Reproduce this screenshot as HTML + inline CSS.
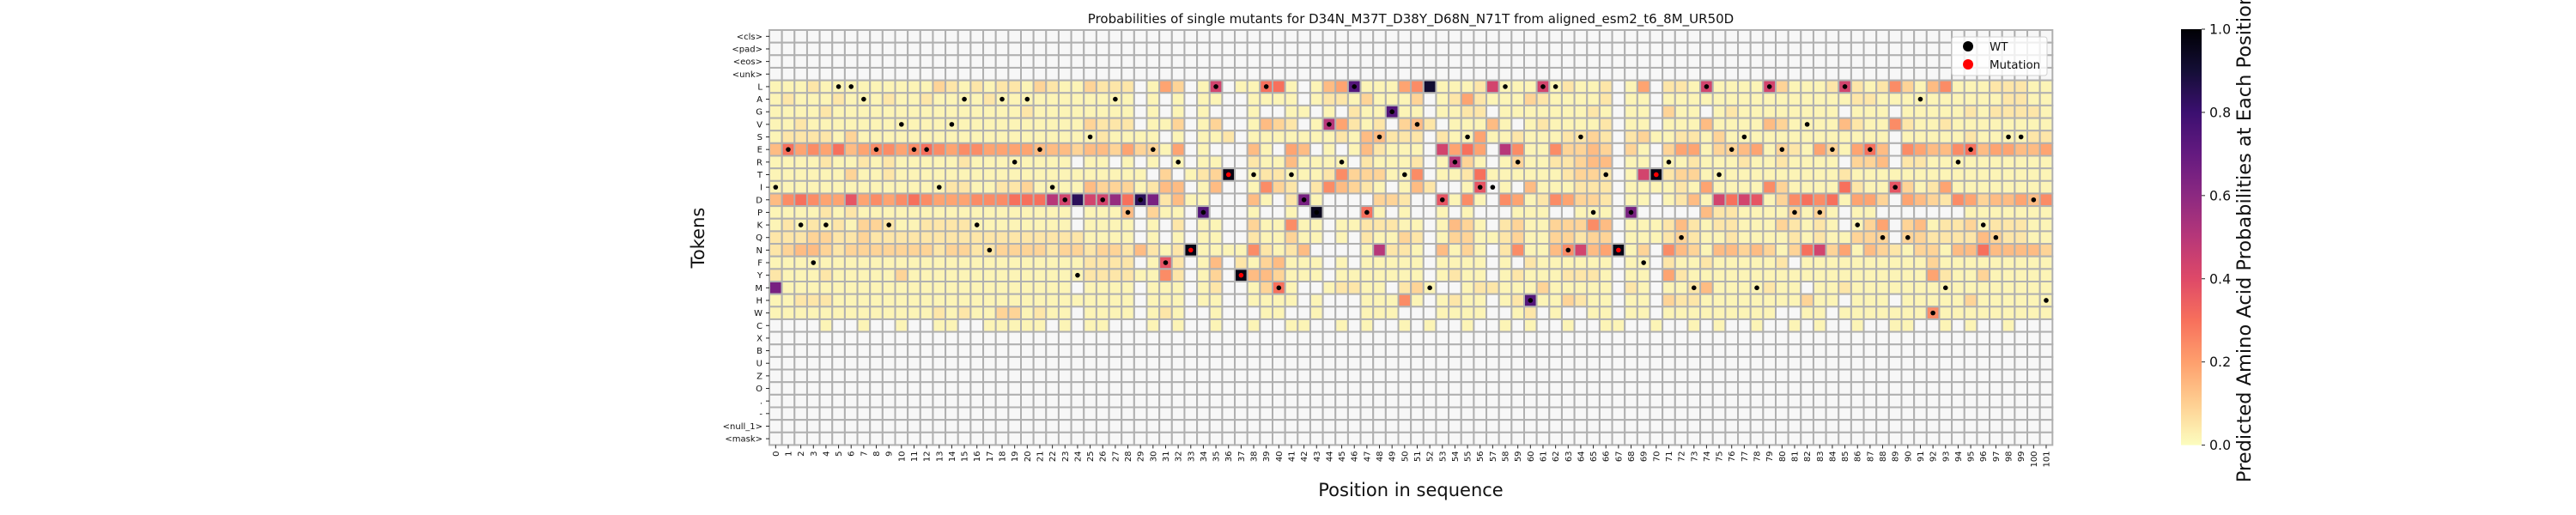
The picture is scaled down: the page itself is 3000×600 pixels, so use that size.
<!DOCTYPE html>
<html><head><meta charset="utf-8"><title>Single mutant probabilities</title>
<style>html,body{margin:0;padding:0;background:#fff;}svg{display:block;font-family:"DejaVu Sans","Liberation Sans",sans-serif;}</style>
</head><body>
<svg id="chart" xmlns="http://www.w3.org/2000/svg" width="3000" height="600" viewBox="0 0 3000 600">
<rect width="3000" height="600" fill="#fff"/>
<text x="1643" y="27" font-size="15" text-anchor="middle" fill="#111">Probabilities of single mutants for D34N_M37T_D38Y_D68N_N71T from aligned_esm2_t6_8M_UR50D</text>
<g id="cells"></g>
<g id="dots"></g>
<g id="yticks"></g>
<g id="xticks"></g>
<text transform="translate(820,277) rotate(-90)" font-size="21" text-anchor="middle" fill="#111">Tokens</text>
<text x="1643" y="578" font-size="21" text-anchor="middle" fill="#111">Position in sequence</text>
<g>
<rect x="2273" y="43" width="111" height="45" rx="3" fill="#fff" fill-opacity="0.8" stroke="#d0d0d0"/>
<circle cx="2292" cy="54" r="6" fill="#000"/>
<text x="2317" y="59" font-size="13.4" fill="#111">WT</text>
<circle cx="2292" cy="75" r="6" fill="#f00"/>
<text x="2317" y="80" font-size="13.4" fill="#111">Mutation</text>
</g>
<defs><linearGradient id="cbgrad" x1="0" y1="1" x2="0" y2="0"></linearGradient></defs>
<rect x="2540" y="34" width="24" height="484.6" fill="url(#cbgrad)"/>
<g id="cbticks"></g>
<text transform="translate(2621,277) rotate(-90)" font-size="22.5" text-anchor="middle" fill="#111">Predicted Amino Acid Probabilities at Each Position</text>
</svg>
<script>
const N = null;
const tokens = ["<cls>","<pad>","<eos>","<unk>","L","A","G","V","S","E","R","T","I","D","P","K","Q","N","F","Y","M","H","W","C","X","B","U","Z","O",".","-","<null_1>","<mask>"];
const positions = Array.from({length:102},(_,i)=>String(i));
const wildType = "IEKFKLLAEKVEEIVAKNARAEIDYSDAPDEFRDPLMDTLMTDPVRLPSGTVMDRSIILRHLLNSPTDPFNRQMLTESMLEPVPELKEQIQAWMREKQSSDH".split("");
const mutPositions = [33,36,37,67,70];
const mutResidues = ["N","T","Y","N","T"];
const cbTicks = [0,0.2,0.4,0.6,0.8,1.0];
const cbTickLabels = ["0.0","0.2","0.4","0.6","0.8","1.0"];

const rowL = [.02,.02,.02,.05,.02,.02,.02,.02,.02,.02,.02,.02,.02,.09,.05,.02,.05,.02,.05,.05,.02,.09,.05,.02,.02,.09,
.05,.05,.05,N,.02,.19,.09,N,.02,.43,N,.02,.02,.3,.3,.02,N,.02,.14,.19,.74,.02,.02,.02,.19,
.24,.91,.02,.02,.02,.05,.43,.02,.02,.02,.43,.02,.05,.02,.02,.05,N,.02,.19,N,.05,.05,.02,.43,.02,
.02,.02,.02,.43,.09,.02,.02,.02,.05,.43,.05,.02,.05,.24,.09,.02,.14,.24,.02,.02,.02,.05,.05,.05,.02,.02];
const rowA = [.02,.05,.02,.02,.02,.05,.02,.02,.02,.05,.02,.02,.05,.02,.02,.02,.02,.05,.02,.02,.02,.02,.02,.02,.02,.02,
.02,.02,.02,N,.02,N,.02,N,.02,.02,N,N,.02,.02,.02,.02,N,.02,.05,.05,.02,.09,.02,.02,.02,
.09,N,.02,.05,.19,.05,.02,.02,.02,.09,.05,.02,.02,.02,.02,.05,N,.02,.02,N,.02,.02,.02,.02,.02,
.02,.02,.02,.02,.02,.02,.02,.02,.02,.02,.05,.05,.02,.02,.02,.02,.02,.02,.02,.02,.02,.02,.05,.05,.02,.02];
const rowG = [.02,.02,.02,.02,.05,.02,.02,.02,.02,.02,.02,.02,.02,.02,.02,.02,.02,.02,.02,.02,.05,.02,.02,.02,.02,.02,
.02,.02,.02,N,.02,N,.02,N,.02,N,N,N,.02,N,N,.02,.02,N,.02,N,.05,.02,.02,.74,.02,
.02,N,.02,.02,.05,.05,N,.02,.02,.02,.02,.02,.02,.02,.05,.02,N,.02,.02,N,.09,.02,.02,N,.02,
.05,.02,.02,.02,.02,.02,.02,.02,.02,N,.02,.02,.02,N,.02,.02,.02,.02,.02,.05,.02,.05,.05,.05,.05,.02];
const rowV = [.02,.02,.05,.02,.02,.02,.02,.02,.02,.02,.02,.02,.02,.02,.02,.02,.02,.02,.02,.02,.02,.02,.02,.02,.02,.09,
.05,.05,.05,N,.02,.02,.09,N,.02,.09,N,N,.02,.14,.09,.05,N,.02,.5,.19,.05,.02,.05,N,.09,
.14,.05,N,.02,.02,.02,.14,.02,N,.02,.05,.02,.02,.02,.02,.05,N,.02,.02,N,.02,.02,.02,.14,.02,
.02,.02,.02,.14,.09,.02,.02,.02,.02,.14,.05,.02,.02,.24,.05,.02,.02,.05,.02,.02,.02,.02,.02,.02,.02,.02];
const rowS = [.02,.05,.05,.05,.05,.02,.09,.02,.02,.02,.02,.02,.02,.02,.02,.02,.02,.02,.02,.02,.02,.02,.02,.02,.02,.02,
.05,.02,.02,.02,.02,N,.02,N,.02,.02,.05,N,.02,.02,.02,.02,.02,.02,.02,.05,.02,.14,.14,.05,.05,
.05,N,.05,.02,.02,.19,.02,.02,.05,.02,.02,.02,.05,.05,.09,.05,N,.05,.09,.02,.02,.05,.05,.02,.09,
.02,.02,.02,.02,.02,.02,.02,.02,.02,.02,.02,.02,.02,N,.02,.02,.02,.02,.02,.05,.02,.02,.02,.02,.05,.05];
const rowE = [.14,.3,.19,.24,.19,.3,.14,.19,.24,.24,.19,.24,.3,.24,.19,.24,.24,.19,.19,.19,.19,.14,.14,.14,.09,.14,
.14,.09,.19,.09,.09,.02,.19,N,.02,N,N,N,.14,.02,N,.19,.14,N,.02,N,.02,.14,.05,.02,.02,
.02,N,.43,.19,.3,.19,N,.5,.24,.02,.02,.24,.09,.09,.14,.09,N,.09,.02,N,.09,.19,.19,.02,.09,
.09,.14,.19,.02,.09,.05,.02,.19,.09,.02,.19,.3,.14,N,.24,.19,.14,.14,.24,.3,.14,.19,.19,.14,.14,.19];
const rowR = [.02,.02,.02,.02,.05,.02,.02,.05,.02,.05,.02,.02,.02,.02,.02,.05,.02,.02,.02,.02,.02,.02,.02,.02,N,.02,
.02,N,.02,N,.02,N,.02,N,.02,.02,N,N,.05,.02,.02,.14,.02,.02,.02,.02,N,.05,.02,.02,.02,
.05,N,.02,.5,.09,.02,N,.02,.09,.02,.02,.05,.05,.09,.14,.14,N,.02,.02,N,.02,.02,.05,.02,.02,
.02,.05,.02,.02,.05,.02,.02,.02,.02,N,.09,.09,.14,N,.05,.05,.02,.02,.02,.02,.02,.02,.02,.02,.02,.02];
const rowT = [.02,.02,.02,.02,.02,.02,.09,.02,.02,.05,.02,.02,.02,.02,.02,.02,.02,.02,.02,.02,.02,.02,.02,.02,.02,.02,
.02,.02,.02,.02,N,.09,N,.02,.05,.09,.97,N,.02,.05,.05,.02,.02,.02,.05,.24,.09,.09,.09,.02,.02,
.24,N,.02,.02,.05,.3,.02,.02,.02,.02,.02,.02,.05,.09,.09,.05,N,.02,.43,.97,.05,.09,.09,.02,.02,
.02,.02,.02,.02,.02,.02,.02,.02,.02,.05,.02,.02,.02,.02,.02,.02,.02,.02,.02,.02,.02,.02,.02,.02,.02,.02];
const rowI = [.02,.02,.02,.02,.02,.02,.02,.02,.02,.02,.02,.02,.02,.02,.05,.05,.02,.02,.05,.05,.09,.02,.02,.02,.02,.14,
.09,.09,.09,.02,.05,.14,.14,N,.02,.14,N,N,.02,.24,.09,.05,N,.05,.24,.14,.09,.05,.02,N,.02,
.14,.05,N,N,.02,.37,N,.02,N,.14,.02,.02,.02,.05,.05,.05,N,.02,.02,.02,.02,.05,.02,.19,.02,
.02,.02,.02,.24,.09,.02,.02,.02,.02,.3,.05,.02,.02,.37,.09,.02,.05,.19,.02,.02,.02,.02,.02,.02,.02,.02];
const rowD = [.14,.24,.3,.24,.19,.19,.37,.19,.24,.19,.24,.3,.24,.19,.19,.19,.24,.24,.24,.3,.3,.3,.5,.43,.84,.43,
.43,.58,.3,.84,.65,.05,.14,.02,.02,N,N,N,.14,.02,N,.05,.65,.02,N,N,N,N,.09,.09,.05,
N,N,.37,.02,.24,.02,N,.24,.19,.02,.05,.24,.19,.09,.09,.05,N,.02,.02,N,.02,.05,.14,.02,.43,
.3,.43,.37,.02,.09,.24,.3,.24,.3,.02,.19,.19,.09,N,.19,.14,.09,.05,.24,.19,.09,.14,.14,.19,.14,.24];
const rowP = [.02,.02,.02,.02,.05,.02,.05,.02,.02,.02,.02,.02,.02,.02,.02,.02,.02,.02,.02,.02,.02,.02,.02,.02,N,.02,
.02,.02,.14,N,.09,.02,.02,N,.74,N,N,N,.02,N,N,.02,N,.95,N,N,N,.3,.02,N,.02,
N,N,.02,N,.02,N,N,N,.02,.02,.02,N,N,.02,.02,.02,N,.65,N,N,N,N,N,.14,.05,
.05,.02,.02,.02,.02,.09,.02,.09,.02,N,.02,.02,N,N,N,N,N,N,N,.02,.02,.02,.02,.02,.02,.02];
const rowK = [.02,.05,.02,.05,.02,.05,.02,.09,.09,.05,.02,.02,.05,.05,.05,.05,.02,.02,.02,.02,.02,.02,.02,.02,N,.02,
.02,.02,.02,N,.02,N,.05,N,.02,.02,N,N,.09,.02,.02,.24,.02,.02,N,.02,.02,.05,.05,.05,.02,
.02,N,.02,.14,.09,.02,N,.05,.09,.02,.02,.09,.09,.09,.24,.14,N,.02,.02,.02,.05,.14,.05,.02,.05,
.05,.02,.02,.02,.09,.05,.02,.05,.02,N,.02,.09,.19,N,.09,.14,.02,.05,.05,.09,.02,.05,.05,.05,.02,.02];
const rowQ = [.05,.05,.05,.09,.09,.05,.05,.09,.05,.05,.05,.05,.05,.05,.05,.05,.05,.05,.05,.05,.05,.05,.05,.05,.05,.02,
.02,.02,.02,N,.02,N,.02,N,.02,.02,N,N,.05,.02,.02,.09,.02,.02,N,.02,N,.05,.02,.02,.09,
.05,N,.02,.09,.09,.02,.02,.05,.09,.02,.02,.09,.09,.05,.09,.09,N,.02,.02,.02,.05,.09,.05,.02,.02,
.05,.02,.02,.02,.02,.05,.02,.05,.02,.02,.09,.09,.09,N,.09,.09,.05,.05,.05,.05,.14,.09,.05,.05,.02,.02];
const rowN = [.05,.09,.14,.14,.09,.05,.09,.09,.09,.09,.09,.09,.09,.05,.09,.09,.05,.05,.09,.09,.09,.09,.05,.09,.09,.05,
.09,.09,.05,.14,.05,.02,.05,.97,.02,.02,.02,.02,.24,.05,.02,.05,.14,N,N,N,N,.02,.5,.05,.05,
.02,N,.14,.02,.09,.02,N,.05,.24,.02,.02,.14,.24,.43,.14,.19,.97,.02,.09,N,.24,.14,.09,.02,.14,
.14,.09,.14,.09,.02,.09,.3,.43,.09,.19,.02,.14,.09,.05,.02,.09,.09,.02,.14,.14,.3,.14,.14,.14,.14,.09];
const rowF = [.02,.02,.02,.02,.02,.02,.02,.02,.02,.02,.02,.02,.02,.02,.02,.02,.02,.02,.02,.02,.02,.02,.02,.02,.02,.05,
.05,.05,.05,N,.02,.37,.05,N,.02,.14,N,.05,.02,.09,.14,.02,.02,.02,N,.02,N,.02,.02,.02,.02,
.02,N,.02,.02,.02,.02,N,.02,N,.05,.02,.02,.02,.02,.02,.02,N,.02,.02,N,.05,.02,.02,.05,.02,
.02,.02,.02,.02,.05,N,.02,.02,.02,.02,.02,.02,.02,.02,.02,.02,.09,.02,.02,.02,.02,.02,.02,.02,.02,.02];
const rowY = [.05,.02,.02,.02,.05,.02,.02,.02,.02,.02,.09,.02,.02,.02,.02,.02,.02,.02,.02,.02,.02,.02,.02,.02,.02,.05,
.05,.05,.05,.02,.02,.24,.05,N,.02,.09,N,.97,.14,.14,.09,.02,.02,.02,N,.02,.02,.02,.02,.02,.02,
.02,N,.02,.05,.02,.02,N,.02,.05,.02,.02,.02,.05,.05,.05,.02,N,.02,.02,N,.19,.05,.02,.02,.02,
.02,.02,.02,.02,.02,.02,.02,.02,.02,.02,.02,.02,.02,.02,.02,.02,.19,.05,.02,.02,.09,.02,.02,.02,.02,.02];
const rowM = [.65,.02,.02,.02,.02,.02,.02,.02,.02,.02,.02,.02,.02,.02,.02,.02,.02,.02,.02,.02,.02,.02,.02,.02,N,.02,
.02,.02,.02,N,.02,.02,.02,N,.02,.05,N,N,.02,.09,.3,.02,N,N,.02,.05,.05,.02,.02,N,.05,
.09,.02,N,N,.02,.05,.05,.02,.02,.02,.09,.02,.02,.02,.02,.02,N,.05,.02,N,.02,.02,.05,.14,.02,
.02,.02,.02,.05,.02,.02,N,.02,.02,.05,.02,.02,.02,.02,.02,.02,.02,.02,.02,.02,.02,.02,.02,.02,.02,.02];
const rowH = [.02,.02,.05,.05,.05,.02,.02,.02,.02,.02,.02,.02,.02,.02,.02,.02,.02,.02,.02,.02,.02,.02,.02,.02,.02,.02,
.02,.02,.02,N,.02,.02,.02,N,.02,.02,N,N,.02,.02,.02,.02,N,.02,N,N,N,.02,.02,.02,.24,
.02,N,.02,.05,.02,.02,N,.02,.05,.74,.02,.02,.09,.05,.02,.02,N,.02,.02,N,.09,.05,.05,.02,.02,
.02,.02,.02,.02,.02,.02,.09,.02,.02,N,.02,.02,.02,N,.02,.02,.02,.02,.02,.09,.02,.02,.02,.02,.02,.02];
const rowW = [.02,.02,.02,.02,.02,.02,.02,.02,.02,.02,.02,.02,.02,.05,.02,.05,.02,.02,.09,.09,.02,.05,.02,.02,N,.02,
.02,.02,.02,N,.02,.05,.02,N,N,.02,N,N,N,.02,.02,N,N,.02,N,N,N,.02,.02,.02,N,
N,N,.02,.02,.02,.02,N,N,.02,.05,N,.02,N,N,.02,.02,N,.02,.02,N,.02,.02,.02,.02,.02,
.02,.02,.02,.02,N,N,.02,.02,N,.02,.02,.02,.02,.02,.02,.02,.24,.02,.02,.02,.02,.02,.02,.02,.02,.02];
const rowC = [N,N,N,N,.02,N,N,.02,N,N,.02,N,N,.02,.02,N,N,.02,.02,.02,.02,.02,N,.02,N,.02,.02,N,
N,N,.02,N,.02,N,N,.02,N,N,.02,N,N,.02,.02,N,N,.02,N,.02,N,N,.02,N,.02,N,N,.02,N,N,.02,N,.02,N,N,.02,N,N,.02,.02,N,N,.02,N,
N,.02,N,.02,N,N,.02,N,N,.02,N,.02,N,N,.02,N,N,.02,.02,N,N,.02,N,.02,N,N,.02,N];

const rowData = {L:rowL,A:rowA,G:rowG,V:rowV,S:rowS,E:rowE,R:rowR,T:rowT,I:rowI,D:rowD,P:rowP,K:rowK,Q:rowQ,N:rowN,F:rowF,Y:rowY,M:rowM,H:rowH,W:rowW,C:rowC};

const SVGNS = "http://www.w3.org/2000/svg";
const X0 = 896, Y0 = 35, CW = 14.65, CH = 14.65;
function xScale(c){ return X0 + c*CW; }
function yScale(r){ return Y0 + r*CH; }
const CB_TOP = 34, CB_BOT = 518.6;
function cbScale(v){ return CB_BOT - v*(CB_BOT-CB_TOP); }

const magmaStops = [[0,[0,0,4]],[0.1,[20,14,54]],[0.2,[59,15,112]],[0.3,[100,26,128]],[0.4,[140,41,129]],[0.5,[183,55,121]],[0.6,[222,73,104]],[0.7,[247,112,92]],[0.8,[254,159,109]],[0.9,[254,207,146]],[1.0,[252,253,191]]];
function magmaR(v){
  let t = 1 - Math.max(0, Math.min(1, v));
  for (let i=0;i<magmaStops.length-1;i++){
    const a = magmaStops[i], b = magmaStops[i+1];
    if (t <= b[0]){
      const f = (t - a[0])/(b[0]-a[0]);
      const c = a[1].map((x,k)=>Math.round(x + (b[1][k]-x)*f));
      return "rgb(" + c.join(",") + ")";
    }
  }
  return "rgb(252,253,191)";
}
function mk(tag, attrs){
  const e = document.createElementNS(SVGNS, tag);
  for (const k in attrs) e.setAttribute(k, attrs[k]);
  return e;
}

const cellsG = document.getElementById("cells");
tokens.forEach((tok, r) => {
  const arr = rowData[tok];
  positions.forEach((p, c) => {
    const v = arr ? (arr[c] === undefined ? null : arr[c]) : null;
    const rect = mk("rect", {x: xScale(c), y: yScale(r), width: CW, height: CH,
      fill: v === null ? "#f7f7f7" : magmaR(v), stroke: "#b0b0b0", "stroke-width": 2});
    
    
    cellsG.appendChild(rect);
  });
});

const dotsG = document.getElementById("dots");
wildType.forEach((aa, c) => {
  const mi = mutPositions.indexOf(c);
  const tok = mi >= 0 ? mutResidues[mi] : aa;
  const r = tokens.indexOf(tok);
  const dot = mk("circle", {cx: xScale(c) + CW/2, cy: yScale(r) + CH/2, r: 2.8, fill: mi >= 0 ? "#ff0000" : "#000"});
  
  
  dotsG.appendChild(dot);
});

const yt = document.getElementById("yticks");
tokens.forEach((tok, r) => {
  const cy = yScale(r) + CH/2;
  const tick = mk("line", {x1: X0-4, x2: X0, y1: cy, y2: cy, stroke: "#222", "stroke-width": 1});
  
  
  yt.appendChild(tick);
  const t = mk("text", {x: X0-8, y: cy+3.5, "font-size": 10, "text-anchor": "end", fill: "#111"});
  t.textContent = tok;
  
  
  yt.appendChild(t);
});

const xt = document.getElementById("xticks");
const yBottom = yScale(tokens.length);
positions.forEach((p, c) => {
  const cx = xScale(c) + CW/2;
  const tick = mk("line", {x1: cx, x2: cx, y1: yBottom, y2: yBottom+4, stroke: "#222", "stroke-width": 1});
  
  
  xt.appendChild(tick);
  const t = mk("text", {transform: "translate(" + (cx+3.5) + "," + (yBottom+7) + ") rotate(-90)", "font-size": 10, "text-anchor": "end", fill: "#111"});
  t.textContent = p;
  
  
  xt.appendChild(t);
});

const grad = document.getElementById("cbgrad");
for (let i=0;i<=20;i++){
  const v = i/20;
  grad.appendChild(mk("stop", {offset: v, "stop-color": magmaR(v)}));
}
const cbt = document.getElementById("cbticks");
cbTicks.forEach((v, i) => {
  const y = cbScale(v);
  const tick = mk("line", {x1: 2564, x2: 2568, y1: y, y2: y, stroke: "#222", "stroke-width": 1});
  
  
  cbt.appendChild(tick);
  const t = mk("text", {x: 2573, y: y+5.5, "font-size": 15.8, fill: "#111"});
  t.textContent = cbTickLabels[i];
  
  
  cbt.appendChild(t);
});
</script>
</body></html>
